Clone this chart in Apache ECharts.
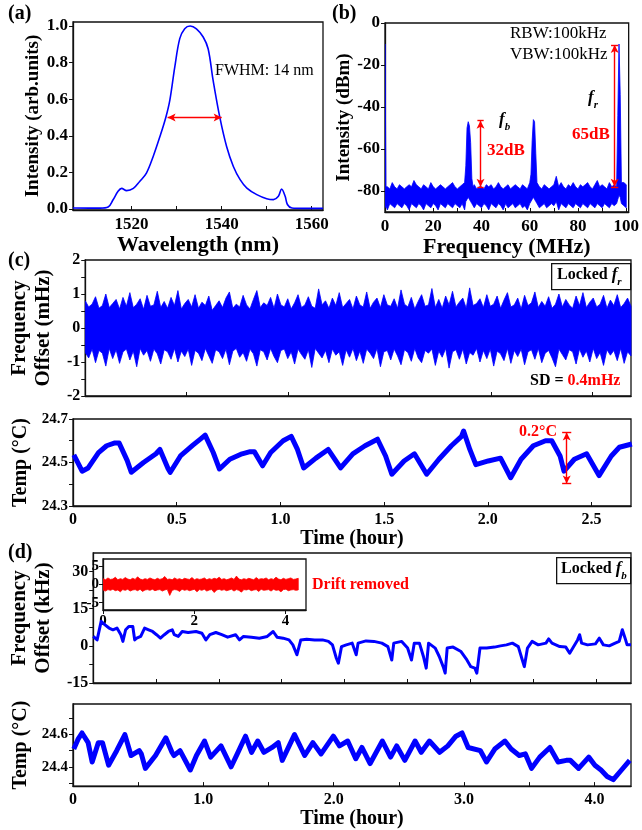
<!DOCTYPE html>
<html><head><meta charset="utf-8">
<script src="https://cdn.jsdelivr.net/npm/echarts@6.0.0/dist/echarts.min.js"></script>
<style>html,body{margin:0;padding:0;background:#fff}#c{width:642px;height:830px}</style>
</head><body><div id="c"></div>
<script>
// ---------- (a) optical spectrum ----------
const aWave=[1507,1513,1514.8,1515.9,1517,1517.8,1518.9,1520.4,1521.8,1523.3,
1524.8,1526.3,1527.6,1528.5,1529.6,1530.7,1531.8,1533,1534.4,1535.9,
1537,1538.1,1539.6,1541.1,1542.6,1544.1,1545.6,1547.8,1550,1551.5,
1552.6,1553.3,1554.1,1554.6,1555.6,1558,1562.5];
const aInt=[0.005,0.004,0.01,0.05,0.096,0.112,0.1,0.112,0.15,0.196,
0.287,0.396,0.5,0.595,0.777,0.931,0.985,1.0,0.985,0.94,
0.876,0.704,0.5,0.341,0.232,0.16,0.114,0.078,0.056,0.051,
0.069,0.109,0.069,0.024,0.005,0.003,0.003];
const aFwhm=[1528,1540];

// ---------- (b) RF spectrum (upper / lower envelope) ----------
const bFreq=[0,0.4,1,2,3,4,5,6,7,8,
9,10,11,12,13,14,15,16,17,18,
19,20,21,22,23,24,25,26,27,28,
29,30,31,32,33,33.5,34,34.5,35,35.5,
36,36.5,37,38,39,40,41,42,43,44,
45,46,47,48,49,50,51,52,53,54,
55,56,57,58,59,60,60.5,61,61.5,62,
62.5,63,64,65,66,67,68,69,70,71,
72,73,74,75,76,77,78,79,80,81,
82,83,84,85,86,87,88,89,90,91,
92,93,94,95,96,96.5,97,97.5,98,99,
100];
const bUp=[-10,-78,-78,-79,-76,-78,-79,-77,-78,-79,
-78,-77,-78,-75,-77,-78,-79,-77,-78,-79,
-76,-78,-79,-78,-77,-78,-79,-78,-77,-76,
-78,-79,-78,-77,-76,-68,-50,-47,-49,-57,
-74,-78,-77,-79,-78,-78,-79,-77,-78,-77,
-79,-78,-76,-78,-79,-78,-77,-79,-78,-77,
-78,-79,-77,-78,-79,-76,-72,-56,-46,-47,
-62,-76,-78,-79,-77,-78,-79,-78,-77,-73,
-78,-76,-78,-79,-77,-78,-76,-78,-79,-77,
-78,-77,-76,-78,-79,-77,-75,-78,-77,-78,
-79,-76,-78,-77,-78,-44,-10,-34,-76,-76,
-77];
const bLo=[-88,-87,-89,-86,-87,-88,-86,-87,-88,-86,
-87,-89,-86,-87,-88,-86,-87,-89,-86,-87,
-88,-86,-87,-89,-86,-87,-88,-86,-87,-88,
-86,-87,-88,-86,-89,-85,-84,-83,-84,-85,
-86,-87,-88,-86,-87,-88,-86,-87,-89,-86,
-87,-88,-86,-87,-89,-86,-88,-87,-86,-88,
-87,-86,-88,-87,-89,-86,-85,-84,-83,-84,
-85,-86,-88,-87,-86,-88,-87,-86,-87,-85,
-89,-86,-87,-88,-86,-87,-88,-86,-87,-88,
-86,-87,-88,-86,-87,-88,-86,-87,-88,-86,
-87,-88,-86,-87,-86,-84,-82,-83,-86,-87,
-88];
const b32=[39.6,-46.5,-78];   // x, top, bottom
const b65=[95.2,-10.5,-78];

// ---------- (c) locked fr : frequency offset envelope (mHz), 0..2.69 h ----------
const cSpan=2.69;
const cUp=[0.8,0.62,0.7,0.92,0.58,0.66,1.0,0.6,0.72,0.84,0.56,0.9,0.64,1.04,0.6,0.7,0.86,0.55,0.96,0.64,
0.68,1.08,0.6,0.78,0.58,0.9,0.66,1.1,0.56,0.72,0.84,0.62,0.98,0.58,0.76,0.66,0.94,0.52,0.66,0.8,
0.6,0.88,1.06,0.58,0.7,0.62,0.96,0.68,0.56,0.84,1.1,0.6,0.74,0.66,0.9,0.58,1.0,0.68,0.62,0.86,
0.56,0.74,0.98,0.6,0.68,0.92,0.64,0.58,1.15,0.68,0.8,0.58,0.88,0.66,1.04,0.6,0.72,0.84,0.56,0.94,
0.68,0.62,1.06,0.58,0.76,0.88,0.6,0.98,0.68,0.64,0.86,0.58,1.12,0.7,0.62,0.9,0.56,0.78,0.98,0.64,
0.68,1.16,0.6,0.84,0.58,0.94,0.68,1.08,0.62,0.76,0.88,0.58,1.18,0.66,0.72,0.86,0.6,0.98,0.64,0.7,
0.94,0.58,0.82,1.04,0.62,0.68,0.88,0.56,0.96,0.66,0.74,1.06,0.6,0.78,0.64,0.92,0.58,0.7,1.0,0.62,
0.84,0.68,0.58,0.94,0.66,1.04,0.6,0.76,0.88,0.62,0.7,0.96,0.58,0.82,0.66,0.98,0.6,0.72,0.88,0.64];
const cLo=[-0.72,-0.88,-0.62,-1.02,-0.66,-0.74,-1.12,-0.6,-0.9,-0.64,-1.04,-0.7,-0.62,-0.94,-0.68,-1.14,-0.6,-0.8,-0.66,-0.98,
-0.62,-0.76,-1.06,-0.64,-0.7,-0.92,-0.6,-1.0,-0.68,-0.84,-0.62,-1.1,-0.66,-0.74,-0.96,-0.6,-0.82,-1.04,-0.64,-0.7,
-0.9,-0.62,-1.08,-0.68,-0.6,-0.86,-0.72,-0.98,-0.62,-0.76,-1.12,-0.64,-0.7,-0.94,-0.6,-0.84,-1.02,-0.66,-0.62,-0.9,
-0.7,-1.06,-0.62,-0.78,-0.92,-0.64,-1.16,-0.6,-0.74,-0.88,-0.66,-1.02,-0.62,-0.8,-0.7,-1.1,-0.64,-0.86,-0.6,-0.96,
-0.68,-1.04,-0.62,-0.74,-0.9,-0.6,-1.14,-0.7,-0.66,-0.94,-0.62,-0.82,-1.08,-0.64,-0.72,-0.98,-0.6,-0.88,-1.02,-0.66,
-0.74,-0.62,-1.1,-0.68,-0.86,-0.6,-1.18,-0.7,-0.64,-0.92,-0.62,-1.06,-0.72,-0.8,-0.6,-1.0,-0.66,-0.9,-0.62,-1.12,
-0.68,-0.76,-0.96,-0.6,-1.04,-0.66,-0.84,-0.62,-1.08,-0.7,-0.64,-0.92,-0.6,-1.02,-0.74,-0.66,-0.88,-1.14,-0.62,-0.78,
-0.94,-0.64,-0.7,-1.06,-0.62,-0.86,-0.68,-1.0,-0.6,-0.9,-0.72,-1.1,-0.64,-0.8,-0.66,-0.96,-0.6,-1.04,-0.7,-0.82];

// ---------- (c) temperature ----------
const cTime=[0.004,0.044,0.073,0.123,0.162,0.202,0.222,0.261,0.281,0.34,
0.4,0.419,0.459,0.469,0.518,0.578,0.617,0.637,0.676,0.706,
0.756,0.815,0.854,0.874,0.914,0.953,1.013,1.052,1.082,1.112,
1.171,1.23,1.29,1.349,1.408,1.468,1.507,1.537,1.596,1.646,
1.705,1.764,1.824,1.873,1.883,1.913,1.942,2.002,2.061,2.11,
2.16,2.219,2.278,2.308,2.348,2.367,2.417,2.476,2.536,2.595,
2.634,2.694];
const cTemp=[24.535,24.46,24.475,24.545,24.577,24.59,24.59,24.51,24.455,24.5,
24.54,24.56,24.47,24.455,24.53,24.58,24.61,24.626,24.546,24.47,
24.515,24.54,24.55,24.55,24.485,24.546,24.6,24.62,24.56,24.475,
24.52,24.56,24.475,24.54,24.577,24.607,24.53,24.446,24.507,24.54,
24.446,24.515,24.577,24.62,24.645,24.56,24.49,24.507,24.52,24.43,
24.515,24.577,24.6,24.6,24.53,24.46,24.515,24.54,24.44,24.53,
24.57,24.585];
const cArrow=[2.38,24.638,24.403];

// ---------- (d) locked fb : frequency offset (kHz) ----------
const dTime=[0,0.031,0.063,0.094,0.126,0.157,0.189,0.22,0.236,0.258,
0.283,0.315,0.33,0.346,0.378,0.409,0.441,0.472,0.504,0.535,
0.566,0.598,0.629,0.645,0.677,0.708,0.755,0.818,0.865,0.897,
0.928,0.976,1.023,1.07,1.133,1.164,1.196,1.259,1.322,1.385,
1.432,1.463,1.511,1.558,1.589,1.621,1.652,1.699,1.762,1.825,
1.872,1.904,1.935,1.951,1.976,2.014,2.061,2.093,2.108,2.171,
2.234,2.297,2.345,2.376,2.392,2.455,2.502,2.533,2.555,2.596,
2.628,2.65,2.669,2.722,2.754,2.785,2.801,2.817,2.864,2.927,
2.974,3.005,3.037,3.053,3.078,3.131,3.194,3.241,3.289,3.336,
3.383,3.415,3.431,3.456,3.493,3.541,3.603,3.625,3.651,3.713,
3.761,3.792,3.824,3.855,3.871,3.887,3.934,3.997,4.028,4.06,
4.107,4.154,4.186,4.211,4.233,4.249,4.28];
const dFreq=[3.8,2.4,9.9,8.5,7.2,6.5,7.2,4.5,1.8,6.5,
7.8,7.8,2.4,3.1,3.8,7.2,6.5,5.8,4.5,3.1,
4.5,5.8,6.5,4.5,3.8,5.8,5.4,5.8,5.1,2.4,
4.5,5.4,4.5,3.5,4.5,2.4,3.8,3.5,3.1,3.8,
5.8,3.5,3.1,2.4,0.4,-3.6,2.4,2.7,2.4,2.4,
1.8,0.4,-5,-7,-0.3,0.4,1.1,-3.6,1.1,2,
1.8,1.1,-0.3,-5.7,1.1,1.8,-0.9,-5.7,1.1,1.1,
-4.3,-9,1.1,-0.9,-4.3,-8.4,-11,-0.9,-0.5,-2.3,
-5.7,-8.4,-9,-11,-0.9,-0.9,-0.5,0,0.4,1.1,
-0.3,-5.7,-8.4,-0.9,1.8,0.4,1.1,2.8,1.1,-0.3,
-0.5,-3,-0.3,2.4,4.5,1.1,0.4,0.8,3.1,0.4,
0,1.1,1.8,6.5,3.1,0.4,0.4];

// ---------- (d) inset: drift removed (kHz envelope), 0..4.28 h ----------
const inSpan=4.28;
const inUp=[1.6,1.3,1.8,1.4,1.5,2.0,1.3,1.6,1.4,1.9,1.5,1.3,1.7,1.4,2.1,1.5,1.3,1.6,1.4,1.8,
1.5,1.3,1.7,1.4,1.6,2.2,1.4,1.5,1.3,1.8,1.4,1.6,1.3,1.7,1.5,1.4,1.9,1.3,1.6,1.4,
1.5,1.8,1.3,1.6,1.4,1.7,1.5,2.0,1.4,1.6,1.3,1.5,1.8,1.4,2.3,1.5,1.3,1.6,1.4,1.7,
1.5,1.3,1.9,1.4,1.6,1.5,1.8,1.3,1.6,1.4,2.0,1.5,1.3,1.7,1.4,1.6,1.8,1.4,1.5,1.7];
const inLo=[-1.5,-1.8,-1.4,-1.6,-1.3,-1.7,-1.5,-2.0,-1.4,-1.6,-1.3,-1.8,-1.5,-1.4,-1.7,-1.3,-1.9,-1.5,-1.4,-1.6,
-1.3,-1.7,-1.5,-1.4,-1.8,-1.5,-1.3,-3.0,-1.6,-1.4,-1.5,-1.9,-1.3,-1.6,-1.4,-1.7,-1.5,-1.3,-2.0,-1.4,
-1.6,-1.3,-1.8,-1.5,-1.4,-2.2,-1.5,-1.3,-1.6,-1.4,-1.7,-1.5,-1.3,-1.8,-1.4,-1.6,-2.1,-1.4,-1.5,-1.3,
-1.7,-1.5,-1.4,-1.9,-1.3,-1.6,-1.5,-1.4,-1.8,-1.3,-1.6,-1.5,-2.0,-1.4,-1.3,-1.7,-1.5,-1.4,-1.6,-1.5];

// ---------- (d) temperature ----------
const dTime2=[0.006,0.038,0.069,0.116,0.147,0.194,0.226,0.273,0.335,0.398,
0.445,0.508,0.524,0.555,0.633,0.712,0.759,0.774,0.821,0.9,
0.947,1.009,1.056,1.135,1.213,1.26,1.323,1.37,1.417,1.464,
1.527,1.574,1.605,1.699,1.777,1.84,1.903,1.997,2.044,2.107,
2.169,2.216,2.279,2.373,2.436,2.483,2.545,2.624,2.671,2.734,
2.812,2.875,2.937,2.984,3.031,3.125,3.172,3.235,3.313,3.361,
3.423,3.47,3.517,3.58,3.658,3.721,3.784,3.815,3.878,3.956,
4.003,4.05,4.097,4.144,4.207,4.27];
const dTemp=[24.51,24.57,24.61,24.55,24.43,24.55,24.55,24.41,24.5,24.6,
24.47,24.5,24.48,24.39,24.47,24.58,24.49,24.47,24.5,24.38,
24.47,24.56,24.46,24.53,24.4,24.48,24.59,24.49,24.56,24.49,
24.52,24.55,24.44,24.6,24.47,24.55,24.48,24.59,24.53,24.56,
24.45,24.52,24.42,24.56,24.46,24.53,24.44,24.56,24.49,24.56,
24.49,24.53,24.59,24.61,24.52,24.5,24.43,24.51,24.56,24.51,
24.47,24.48,24.39,24.46,24.52,24.43,24.44,24.44,24.39,24.46,
24.41,24.38,24.34,24.32,24.38,24.44];

// ================= rendering =================
const F='Liberation Serif', BLUE='#0000ff', RED='#ff0000';
function merge(a,b){const o=Array.isArray(a)?a.slice():Object.assign({},a);for(const k in b){if(b[k]&&typeof b[k]==='object'&&!Array.isArray(b[k])&&a&&typeof a[k]==='object'&&!Array.isArray(a[k]))o[k]=merge(a[k],b[k]);else o[k]=b[k];}return o;}
const zip=(x,y)=>x.map((v,i)=>[v,y[i]]);
const uniform=(n,span)=>Array.from({length:n},(_,i)=>i*span/(n-1));

const grids=[
 {left:73,top:22,width:250,height:188},
 {left:385,top:23,width:249,height:189},
 {left:73,top:260,width:558,height:136},
 {left:73,top:419,width:558,height:87},
 {left:73,top:553,width:558,height:130},
 {left:103,top:559,width:203,height:51,backgroundColor:'#fff'},
 {left:73,top:704,width:558,height:84}
].map(g=>Object.assign({show:true,borderColor:'#111',borderWidth:1.3,containLabel:false},g));

const baseAxis={type:'value',splitLine:{show:false},
 axisLine:{show:true,onZero:false,lineStyle:{color:'#111',width:1.3}},
 axisTick:{show:true,length:4,lineStyle:{color:'#111',width:1}},
 axisLabel:{color:'#000',fontFamily:F,fontWeight:'bold',fontSize:16,formatter:v=>String(v)},
 nameLocation:'middle',nameTextStyle:{color:'#000',fontFamily:F,fontWeight:'bold',fontSize:20}};
const X=o=>merge(merge(baseAxis,{axisTick:{inside:true},axisLabel:{margin:6}}),o);
const Y=o=>merge(merge(baseAxis,{axisTick:{inside:false},axisLabel:{margin:5}}),o);
const fix1=v=>v===0?'0':v.toFixed(1);

const xAxis=[
 X({gridIndex:0,min:1507,max:1562.5,name:'Wavelength (nm)',nameGap:20,nameTextStyle:{fontSize:22},
   axisLabel:{fontSize:17,customValues:[1520,1540,1560]},axisTick:{customValues:[1520,1530,1540,1550,1560]}}),
 X({gridIndex:1,min:0,max:101,name:'Frequency (MHz)',nameGap:20,nameTextStyle:{fontSize:22},
   axisLabel:{fontSize:17,customValues:[0,20,40,60,80,100]},axisTick:{customValues:[0,10,20,30,40,50,60,70,80,90,100]}}),
 X({gridIndex:2,min:0,max:cSpan,axisLabel:{show:false},axisTick:{customValues:[0.5,1,1.5,2,2.5]}}),
 X({gridIndex:3,min:0,max:cSpan,name:'Time (hour)',nameGap:21,
   axisLabel:{customValues:[0,0.5,1,1.5,2,2.5],formatter:fix1},axisTick:{customValues:[0.5,1,1.5,2,2.5]}}),
 X({gridIndex:4,min:0,max:4.28,axisLabel:{show:false},axisTick:{customValues:[0.5,1,1.5,2,2.5,3,3.5,4]}}),
 X({gridIndex:5,min:0,max:4.45,axisLabel:{fontSize:15,margin:4,customValues:[0,2,4]},axisTick:{inside:false,customValues:[0,2,4]}}),
 X({gridIndex:6,min:0,max:4.28,name:'Time (hour)',nameGap:20,
   axisLabel:{customValues:[0,1,2,3,4],formatter:fix1},axisTick:{customValues:[0.5,1,1.5,2,2.5,3,3.5,4]}})
];
const yAxis=[
 Y({gridIndex:0,min:-0.006,max:1.022,name:'Intensity (arb.units)',nameGap:23,nameTextStyle:{fontSize:19},
   axisLabel:{fontSize:17,customValues:[0,0.2,0.4,0.6,0.8,1.0],formatter:v=>v.toFixed(1)},axisTick:{customValues:[0,0.2,0.4,0.6,0.8,1.0]}}),
 Y({gridIndex:1,min:-90,max:0,name:'Intensity (dBm)',nameGap:27,nameTextStyle:{fontSize:19},
   axisLabel:{fontSize:17,customValues:[0,-20,-40,-60,-80]},axisTick:{customValues:[0,-20,-40,-60,-80]}}),
 Y({gridIndex:2,min:-2,max:2,name:'Frequency\nOffset (mHz)',nameGap:22,nameTextStyle:{fontSize:21,lineHeight:24},
   axisLabel:{customValues:[-2,-1,0,1,2]},axisTick:{customValues:[-2,-1.5,-1,-0.5,0,0.5,1,1.5,2]}}),
 Y({gridIndex:3,min:24.3,max:24.7,name:'Temp (°C)',nameGap:35,nameTextStyle:{fontSize:20},
   axisLabel:{fontSize:15,customValues:[24.3,24.5,24.7],formatter:v=>v.toFixed(1)},axisTick:{customValues:[24.3,24.4,24.5,24.6,24.7]}}),
 Y({gridIndex:4,min:-15,max:37.5,name:'Frequency\nOffset (kHz)',nameGap:31,nameTextStyle:{fontSize:21,lineHeight:24},
   axisLabel:{customValues:[-15,0,15,30]},axisTick:{customValues:[-15,-7.5,0,7.5,15,22.5,30]}}),
 Y({gridIndex:5,min:-7,max:7,axisLabel:{fontSize:15,margin:4,customValues:[-5,0,5]},axisTick:{customValues:[-5,0,5]}}),
 Y({gridIndex:6,min:24.28,max:24.79,name:'Temp (°C)',nameGap:37,nameTextStyle:{fontSize:20},
   axisLabel:{fontSize:15,customValues:[24.4,24.6],formatter:v=>v.toFixed(1)},axisTick:{customValues:[24.3,24.4,24.5,24.6,24.7]}})
];

// filled band between an upper and a lower envelope, placed through the axes
function band(gi,xs,up,lo,color){
  const n=Math.min(xs.length,up.length,lo.length);
  return {type:'custom',xAxisIndex:gi,yAxisIndex:gi,silent:true,animation:false,clip:true,z:2,
    data:[[xs[0],up[0]]],
    renderItem:(params,api)=>{
      const pts=[];
      for(let i=0;i<n;i++) pts.push(api.coord([xs[i],up[i]]));
      for(let i=n-1;i>=0;i--) pts.push(api.coord([xs[i],lo[i]]));
      return {type:'polygon',shape:{points:pts},style:{fill:color,stroke:color,lineWidth:0.8}};
    }};
}
const seg=(p,q,arrow)=>[{coord:p,symbol:arrow?'arrow':'none'},{coord:q,symbol:arrow?'arrow':'none'}];
const ml=(data)=>({silent:true,animation:false,symbolSize:[6,8],label:{show:false},lineStyle:{color:RED,width:1.4,type:'solid'},emphasis:{disabled:true},data});
const carrier=(gi,pt,data)=>({type:'line',xAxisIndex:gi,yAxisIndex:gi,data:[pt],symbol:'none',lineStyle:{opacity:0},silent:true,animation:false,z:5,markLine:ml(data)});

const series=[];
series.push({type:'line',xAxisIndex:0,yAxisIndex:0,data:zip(aWave,aInt),smooth:0.35,symbol:'none',lineStyle:{color:BLUE,width:1.6},animation:false,
  markLine:ml([seg([aFwhm[0],0.5],[aFwhm[1],0.5],true)])});
series.push(band(1,bFreq,bUp,bLo,BLUE));
series.push(carrier(1,[bFreq[0],bLo[0]],[
  seg([b32[0],b32[1]],[b32[0],b32[2]],true),
  seg([b32[0]-1.3,b32[1]],[b32[0]+1.3,b32[1]],false),
  seg([b32[0]-1.3,b32[2]],[b32[0]+1.3,b32[2]],false),
  seg([b65[0],b65[1]],[b65[0],b65[2]],true),
  seg([b65[0]-1.5,b65[1]],[b65[0]+1.5,b65[1]],false),
  seg([b65[0]-1.5,b65[2]],[b65[0]+1.5,b65[2]],false)]));
series.push(band(2,uniform(cUp.length,cSpan),cUp,cLo,BLUE));
series.push({type:'line',xAxisIndex:3,yAxisIndex:3,data:zip(cTime,cTemp),symbol:'none',lineStyle:{color:BLUE,width:5,join:'round'},animation:false,
  markLine:ml([
   seg([cArrow[0],cArrow[1]],[cArrow[0],cArrow[2]],true),
   seg([cArrow[0]-0.022,cArrow[1]],[cArrow[0]+0.022,cArrow[1]],false),
   seg([cArrow[0]-0.022,cArrow[2]],[cArrow[0]+0.022,cArrow[2]],false)])});
series.push({type:'line',xAxisIndex:4,yAxisIndex:4,data:zip(dTime,dFreq),symbol:'none',lineStyle:{color:BLUE,width:3,join:'round'},animation:false});
series.push(band(5,uniform(inUp.length,inSpan),inUp,inLo,RED));
series.push({type:'line',xAxisIndex:6,yAxisIndex:6,data:zip(dTime2,dTemp),symbol:'none',lineStyle:{color:BLUE,width:5,join:'round'},animation:false});

const T=(left,top,text,extra)=>({type:'text',left,top,z:100,silent:true,style:Object.assign({text,fill:'#000',font:'bold 20px "Liberation Serif"'},extra||{})});
const rich={n:{fontFamily:F,fontWeight:'bold',fontSize:16,fill:'#000',lineHeight:20},
 i:{fontFamily:F,fontWeight:'bold',fontStyle:'italic',fontSize:17,fill:'#000',lineHeight:20},
 s:{fontFamily:F,fontWeight:'bold',fontStyle:'italic',fontSize:11,fill:'#000',lineHeight:20,verticalAlign:'bottom',padding:[0,0,-3,0]}};
const graphic=[
 T(8,4,'(a)'),T(332,4,'(b)'),T(8,251,'(c)'),T(8,543,'(d)'),
 T(215,63,'FWHM: 14 nm',{font:'16px "Liberation Serif"'}),
 T(510,25,'RBW:100kHz',{font:'17px "Liberation Serif"'}),
 T(510,46,'VBW:100kHz',{font:'17px "Liberation Serif"'}),
 {type:'text',left:499,top:111,z:100,silent:true,style:{text:'{i|f}{s|b}',rich}},
 {type:'text',left:588,top:89,z:100,silent:true,style:{text:'{i|f}{s|r}',rich}},
 T(487,142,'32dB',{fill:RED,font:'bold 17px "Liberation Serif"'}),
 T(572,126,'65dB',{fill:RED,font:'bold 17px "Liberation Serif"'}),
 {type:'rect',left:551,top:263,z:100,silent:true,shape:{width:79,height:26},style:{fill:'#fff',stroke:'#111',lineWidth:1.3}},
 {type:'text',left:557,top:266,z:101,silent:true,style:{text:'{n|Locked }{i|f}{s|r}',rich}},
 {type:'text',left:530,top:373,z:100,silent:true,style:{text:'{n|SD = }{r|0.4mHz}',rich:{n:rich.n,r:{fontFamily:F,fontWeight:'bold',fontSize:16,fill:RED,lineHeight:20}}}},
 T(519,424,'0.2°C',{fill:RED,font:'bold 16px "Liberation Serif"'}),
 {type:'rect',left:556,top:557,z:100,silent:true,shape:{width:74,height:26},style:{fill:'#fff',stroke:'#111',lineWidth:1.3}},
 {type:'text',left:561,top:560,z:101,silent:true,style:{text:'{n|Locked }{i|f}{s|b}',rich}},
 T(312,577,'Drift removed',{fill:RED,font:'bold 16px "Liberation Serif"'})
];

const chart=echarts.init(document.getElementById('c'),null,{renderer:'canvas'});
chart.setOption({animation:false,backgroundColor:'#fff',grid:grids,xAxis,yAxis,series,graphic});
</script></body></html>
